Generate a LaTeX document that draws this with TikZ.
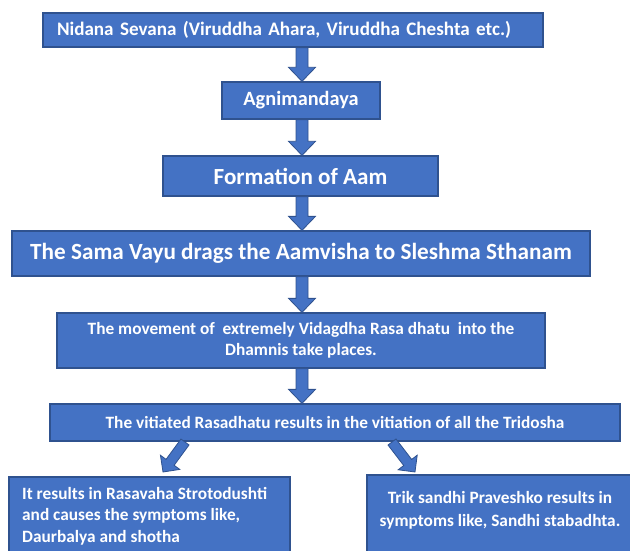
\documentclass[tikz,border=0pt]{standalone}
\usepackage{fontspec}
\setmainfont{Carlito}
\usetikzlibrary{calc}
\definecolor{boxblue}{HTML}{4472C4}
\definecolor{boxedge}{HTML}{2F528F}
\newcommand\blockarrow[5]{%
  \draw[barrow] let \p1=(#1), \p2=(#2),
    \n1={atan2(\y2-\y1,\x2-\x1)}, \n2={veclen(\x2-\x1,\y2-\y1)} in
    [shift={(\p1)}, rotate=\n1]
    (0pt,-#3pt) -- ({\n2*1pt-#5pt},-#3pt) -- ({\n2*1pt-#5pt},-#4pt) -- ({\n2*1pt},0pt)
    -- ({\n2*1pt-#5pt},#4pt) -- ({\n2*1pt-#5pt},#3pt) -- (0pt,#3pt) -- cycle;}
\begin{document}
\begin{tikzpicture}[x=1pt,y=-1pt,
  box/.style={draw=boxedge, line width=1.3pt, fill=boxblue, text=white,
    font=\bfseries, inner sep=0pt, align=center},
  txt/.style={text=white, font=\bfseries, inner sep=0pt},
  barrow/.style={draw=boxedge, line width=0.8pt, fill=boxblue, line join=miter}]
\useasboundingbox (0,0) rectangle (630,551);

\node[box, minimum width=500pt, minimum height=34pt, inner xsep=14pt, text width=472pt, align=left,
  font=\bfseries\fontsize{19.1pt}{22pt}\selectfont] (b1) at (293,30)
  {Nidana Sevana (Viruddha Ahara, Viruddha Cheshta etc.)};
\node[box, minimum width=158pt, minimum height=37pt, font=\bfseries\fontsize{20.3pt}{23pt}\selectfont]
  (b2) at (301,100.5) {Agnimandaya};
\node[box, minimum width=275pt, minimum height=40pt, font=\bfseries\fontsize{23.1pt}{26pt}\selectfont]
  (b3) at (300.5,176) {Formation of Aam};
\node[box, minimum width=578pt, minimum height=45pt, font=\bfseries\fontsize{23.2pt}{26pt}\selectfont]
  (b4) at (301,253.5) {The Sama Vayu drags the Aamvisha to Sleshma Sthanam};
\node[box, minimum width=488pt, minimum height=55pt, font=\bfseries\fontsize{17.3pt}{21pt}\selectfont]
  (b5) at (301,340.5) {The movement of~ extremely Vidagdha Rasa dhatu~ into the\\Dhamnis take places.};
\node[box, minimum width=570pt, minimum height=37pt, font=\bfseries\fontsize{17.3pt}{20pt}\selectfont]
  (b6) at (335,422.5) {The vitiated Rasadhatu results in the vitiation of all the Tridosha};
\node[box, minimum width=281pt, minimum height=76pt] (bl) at (149.5,515) {};
\node[box, minimum width=265pt, minimum height=78pt] (br) at (499.5,514) {};
\node[txt, anchor=north west, align=left, font=\bfseries\fontsize{17.3pt}{21.5pt}\selectfont]
  (tl) at (22,487) {It results in Rasavaha Strotodushti\\and causes the symptoms like,\\Daurbalya and shotha};
\node[txt, anchor=north, align=center, font=\bfseries\fontsize{17.3pt}{23pt}\selectfont]
  (tr) at (500,491) {Trik sandhi Praveshko results in\\symptoms like, Sandhi stabadhta.};

\coordinate (la) at (185,442);
\coordinate (lb) at (163,472);
\coordinate (ra) at (392,442);
\coordinate (rb) at (415,472);

\blockarrow{302,0 |- b1.south}{302,0 |- b2.north}{6}{13.5}{14}
\blockarrow{302,0 |- b2.south}{302,0 |- b3.north}{6}{13.5}{14}
\blockarrow{302,0 |- b3.south}{302,0 |- b4.north}{6}{13.5}{14}
\blockarrow{302,0 |- b4.south}{302,0 |- b5.north}{6}{13.5}{14}
\blockarrow{302,0 |- b5.south}{302,0 |- b6.north}{6}{13.5}{14}
\blockarrow{la}{lb}{5}{12}{12}
\blockarrow{ra}{rb}{5}{12}{12}
\end{tikzpicture}
\end{document}
